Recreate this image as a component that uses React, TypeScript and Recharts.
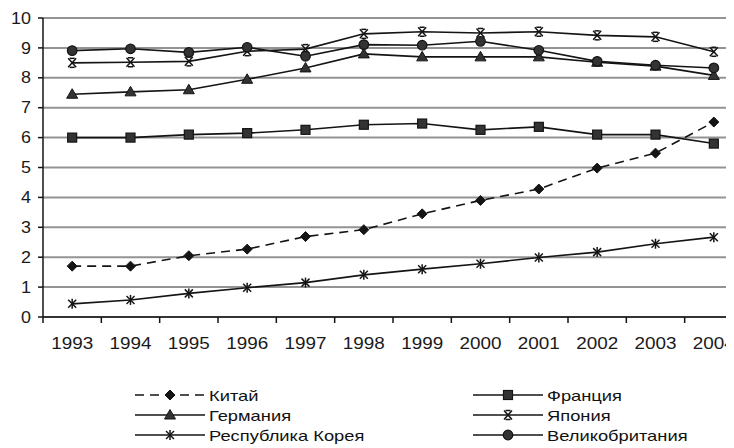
import React from 'react';
import { LineChart, Line, XAxis, YAxis, CartesianGrid, Legend } from 'recharts';

const years = [1993, 1994, 1995, 1996, 1997, 1998, 1999, 2000, 2001, 2002, 2003, 2004];
const china = [1.7, 1.7, 2.05, 2.27, 2.69, 2.92, 3.45, 3.9, 4.28, 4.98, 5.48, 6.52];
const france = [6.0, 6.0, 6.1, 6.15, 6.26, 6.43, 6.47, 6.26, 6.36, 6.1, 6.1, 5.8];
const germany = [7.45, 7.53, 7.6, 7.95, 8.33, 8.8, 8.7, 8.7, 8.7, 8.52, 8.39, 8.08];
const japan = [8.5, 8.52, 8.55, 8.89, 8.96, 9.47, 9.54, 9.5, 9.54, 9.42, 9.37, 8.87];
const korea = [0.44, 0.57, 0.79, 0.98, 1.15, 1.41, 1.6, 1.78, 1.99, 2.17, 2.45, 2.67];
const uk = [8.91, 8.97, 8.85, 9.02, 8.72, 9.11, 9.09, 9.22, 8.92, 8.55, 8.42, 8.33];
const yTicks = [0, 1, 2, 3, 4, 5, 6, 7, 8, 9, 10];

const data = years.map((year, i) => ({
  year,
  china: china[i],
  france: france[i],
  germany: germany[i],
  japan: japan[i],
  korea: korea[i],
  uk: uk[i],
}));

// labels at each year, tick marks between years (Excel style)
const xTicks = [years[0] - 0.5, ...years.flatMap((y) => [y, y + 0.5])];

const INK = '#141414';
const TICK_SIZE = 6;
const TICK_MARGIN = 15;

type Shape = 'diamond' | 'square' | 'triangle' | 'x' | 'asterisk' | 'circle';

const series: { key: string; name: string; shape: Shape; dash?: string }[] = [
  { key: 'china', name: 'Китай', shape: 'diamond', dash: '9 6' },
  { key: 'france', name: 'Франция', shape: 'square' },
  { key: 'germany', name: 'Германия', shape: 'triangle' },
  { key: 'japan', name: 'Япония', shape: 'x' },
  { key: 'korea', name: 'Республика Корея', shape: 'asterisk' },
  { key: 'uk', name: 'Великобритания', shape: 'circle' },
];

function Marker({ shape, cx, cy }: { shape: Shape; cx: number; cy: number }) {
  const fill = '#333';
  switch (shape) {
    case 'diamond':
      return (
        <polygon
          points={`${cx},${cy - 5} ${cx + 5},${cy} ${cx},${cy + 5} ${cx - 5},${cy}`}
          fill={INK}
          stroke={INK}
        />
      );
    case 'square':
      return <rect x={cx - 4.5} y={cy - 4.5} width={9} height={9} fill={fill} stroke={INK} strokeWidth={1.2} />;
    case 'triangle':
      return (
        <polygon
          points={`${cx},${cy - 5.5} ${cx + 5.5},${cy + 4} ${cx - 5.5},${cy + 4}`}
          fill={fill}
          stroke={INK}
        />
      );
    case 'x':
      return (
        <g stroke={INK} strokeWidth={1.5}>
          <line x1={cx - 4} y1={cy - 4.5} x2={cx + 4} y2={cy + 4.5} />
          <line x1={cx + 4} y1={cy - 4.5} x2={cx - 4} y2={cy + 4.5} />
          <line x1={cx - 2.5} y1={cy - 4.5} x2={cx + 2.5} y2={cy - 4.5} />
          <line x1={cx - 2.5} y1={cy + 4.5} x2={cx + 2.5} y2={cy + 4.5} />
        </g>
      );
    case 'asterisk':
      return (
        <g stroke={INK} strokeWidth={1.5}>
          <line x1={cx - 4} y1={cy - 4} x2={cx + 4} y2={cy + 4} />
          <line x1={cx + 4} y1={cy - 4} x2={cx - 4} y2={cy + 4} />
          <line x1={cx} y1={cy - 5} x2={cx} y2={cy + 5} />
        </g>
      );
    default:
      return <circle cx={cx} cy={cy} r={4.8} fill={fill} stroke={INK} strokeWidth={1.2} />;
  }
}

function XTick(props: any) {
  const { x, y, payload } = props;
  const v = payload.value;
  if (Number.isInteger(v)) {
    return (
      <g transform={`translate(${x},${y}) scale(1.18,1)`}>
        <text x={0} y={0} dy="0.71em" textAnchor="middle" fontSize={16} fill="#1a1a1a">
          {v}
        </text>
      </g>
    );
  }
  const axisY = y - TICK_SIZE - TICK_MARGIN;
  return <line x1={x} x2={x} y1={axisY} y2={axisY + TICK_SIZE} stroke={INK} strokeWidth={1.5} />;
}

function YTick(props: any) {
  const { x, y, payload } = props;
  return (
    <g transform={`translate(${x},${y}) scale(1.12,1)`}>
      <text x={0} y={0} dy="0.355em" textAnchor="end" fontSize={16} fill="#1a1a1a">
        {payload.value}
      </text>
    </g>
  );
}

const legendCols = [135, 473];
const ROW_H = 20;

function LegendBox() {
  return (
    <div style={{ position: 'relative', height: 60, width: 750 }}>
      {series.map((s, i) => {
        const left = legendCols[i % 2];
        const top = Math.floor(i / 2) * ROW_H;
        return (
          <div key={s.key} style={{ position: 'absolute', left, top, height: ROW_H, display: 'flex', alignItems: 'center' }}>
            <svg width={72} height={ROW_H} style={{ display: 'block' }}>
              <line x1={0} x2={70} y1={ROW_H / 2} y2={ROW_H / 2} stroke={INK} strokeWidth={1.6} strokeDasharray={s.dash} />
              <Marker shape={s.shape} cx={35} cy={ROW_H / 2} />
            </svg>
            <span
              style={{
                display: 'inline-block',
                fontSize: 15,
                color: '#111',
                marginLeft: 2,
                whiteSpace: 'nowrap',
                transform: 'scaleX(1.22)',
                transformOrigin: 'left center',
              }}
            >
              {s.name}
            </span>
          </div>
        );
      })}
    </div>
  );
}

export default function App() {
  return (
    <div
      style={{
        width: 734,
        height: 448,
        overflow: 'hidden',
        margin: '-8px 0 0 -8px',
        background: '#fff',
        fontFamily: '"Liberation Sans", Arial, sans-serif',
      }}
    >
      <LineChart width={750} height={448} data={data} margin={{ top: 18, right: 7, left: 0, bottom: 3 }}>
        <CartesianGrid vertical={false} stroke="#939393" strokeWidth={2} />
        <XAxis
          dataKey="year"
          type="number"
          domain={[years[0] - 0.5, years[years.length - 1] + 0.5]}
          ticks={xTicks}
          interval={0}
          allowDecimals
          tick={<XTick />}
          tickLine={false}
          tickSize={TICK_SIZE}
          tickMargin={TICK_MARGIN}
          height={68}
          axisLine={{ stroke: INK, strokeWidth: 1.5 }}
        />
        <YAxis
          domain={[0, 10]}
          ticks={yTicks}
          interval={0}
          width={43}
          tickSize={5}
          tickMargin={7}
          tick={<YTick />}
          axisLine={{ stroke: INK, strokeWidth: 1.5 }}
          tickLine={{ stroke: INK, strokeWidth: 1.5 }}
        />
        <Legend verticalAlign="bottom" content={() => <LegendBox />} wrapperStyle={{ left: 0, width: 750 }} />
        {series.map((s) => (
          <Line
            key={s.key}
            dataKey={s.key}
            name={s.name}
            type="linear"
            stroke={INK}
            strokeWidth={1.6}
            strokeDasharray={s.dash}
            isAnimationActive={false}
            dot={(p: any) => <Marker key={`${s.key}-${p.index}`} shape={s.shape} cx={p.cx} cy={p.cy} />}
            activeDot={false}
          />
        ))}
      </LineChart>
    </div>
  );
}
